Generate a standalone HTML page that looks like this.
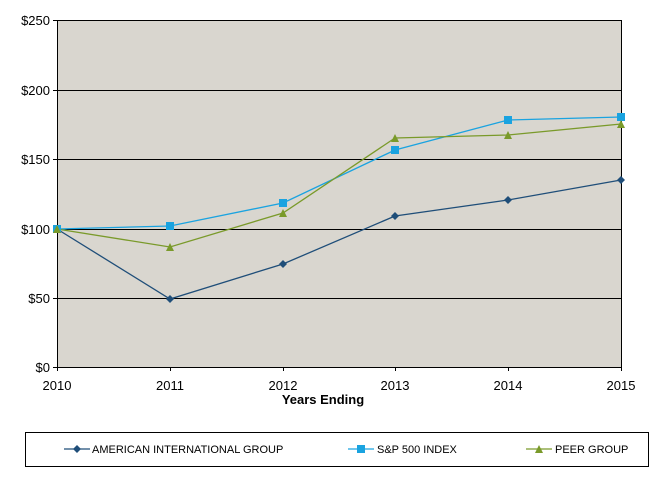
<!DOCTYPE html>
<html><head><style>
body{margin:0;background:#fff;}
svg text{font-family:"Liberation Sans",Arial,sans-serif;}
</style></head><body>
<svg width="664" height="472" viewBox="0 0 664 472" xmlns="http://www.w3.org/2000/svg">
<rect x="57" y="20" width="564" height="347" fill="#d9d6cf"/>
<g stroke="#000" stroke-width="1">
<line x1="57" y1="20.5" x2="621" y2="20.5"/>
<line x1="57" y1="90.5" x2="621" y2="90.5"/>
<line x1="57" y1="159.5" x2="621" y2="159.5"/>
<line x1="57" y1="229.5" x2="621" y2="229.5"/>
<line x1="57" y1="298.5" x2="621" y2="298.5"/>
<line x1="57" y1="367.5" x2="621" y2="367.5"/>
<line x1="57.5" y1="20" x2="57.5" y2="371"/>
<line x1="621.5" y1="20" x2="621.5" y2="371"/>
<line x1="53" y1="20.5" x2="57" y2="20.5"/><line x1="53" y1="90.5" x2="57" y2="90.5"/><line x1="53" y1="159.5" x2="57" y2="159.5"/><line x1="53" y1="229.5" x2="57" y2="229.5"/><line x1="53" y1="298.5" x2="57" y2="298.5"/><line x1="53" y1="367.5" x2="57" y2="367.5"/>
<line x1="170.5" y1="367" x2="170.5" y2="371"/><line x1="283.5" y1="367" x2="283.5" y2="371"/><line x1="395.5" y1="367" x2="395.5" y2="371"/><line x1="508.5" y1="367" x2="508.5" y2="371"/>
</g>
<g font-size="13" text-anchor="end" fill="#000">
<text x="50" y="25">$250</text><text x="50" y="95">$200</text><text x="50" y="164">$150</text><text x="50" y="234">$100</text><text x="50" y="303">$50</text><text x="50" y="372">$0</text>
</g>
<g font-size="13" text-anchor="middle" fill="#000">
<text x="57" y="390">2010</text><text x="170" y="390">2011</text><text x="283" y="390">2012</text><text x="395" y="390">2013</text><text x="508" y="390">2014</text><text x="621" y="390">2015</text>
<text x="323" y="404" font-weight="bold">Years Ending</text>
</g>
<polyline fill="none" stroke="#1f4e79" stroke-width="1.3" points="57,229 170,299 283,264 395,216 508,200 621,180"/>
<polyline fill="none" stroke="#1aa3e0" stroke-width="1.3" points="57,229 170,226 283,203 395,150 508,120 621,117"/>
<polyline fill="none" stroke="#7a9a2a" stroke-width="1.3" points="57,229 170,247 283,213 395,138 508,135 621,124"/>
<g fill="#1f4e79">
<polygon points="57,225 61,229 57,233 53,229"/><polygon points="170,295 174,299 170,303 166,299"/><polygon points="283,260 287,264 283,268 279,264"/><polygon points="395,212 399,216 395,220 391,216"/><polygon points="508,196 512,200 508,204 504,200"/><polygon points="621,176 625,180 621,184 617,180"/>
</g>
<g fill="#1aa3e0">
<rect x="53" y="225" width="8" height="8"/><rect x="166" y="222" width="8" height="8"/><rect x="279" y="199" width="8" height="8"/><rect x="391" y="146" width="8" height="8"/><rect x="504" y="116" width="8" height="8"/><rect x="617" y="113" width="8" height="8"/>
</g>
<g fill="#7a9a2a">
<polygon points="57,225 61,233 53,233"/><polygon points="170,243 174,251 166,251"/><polygon points="283,209 287,217 279,217"/><polygon points="395,134 399,142 391,142"/><polygon points="508,131 512,139 504,139"/><polygon points="621,120 625,128 617,128"/>
</g>
<rect x="25.5" y="432.5" width="623" height="34" fill="#fff" stroke="#000"/>
<g font-size="11" fill="#000">
<line x1="64" y1="449" x2="90" y2="449" stroke="#1f4e79" stroke-width="1.3"/><polygon points="77,445 81,449 77,453 73,449" fill="#1f4e79"/>
<text x="92" y="453">AMERICAN INTERNATIONAL GROUP</text>
<line x1="348" y1="449" x2="374" y2="449" stroke="#1aa3e0" stroke-width="1.3"/><rect x="357" y="445" width="8" height="8" fill="#1aa3e0"/>
<text x="377" y="453">S&amp;P 500 INDEX</text>
<line x1="526" y1="449" x2="552" y2="449" stroke="#7a9a2a" stroke-width="1.3"/><polygon points="539,445 543,453 535,453" fill="#7a9a2a"/>
<text x="555" y="453">PEER GROUP</text>
</g>
</svg>
</body></html>
